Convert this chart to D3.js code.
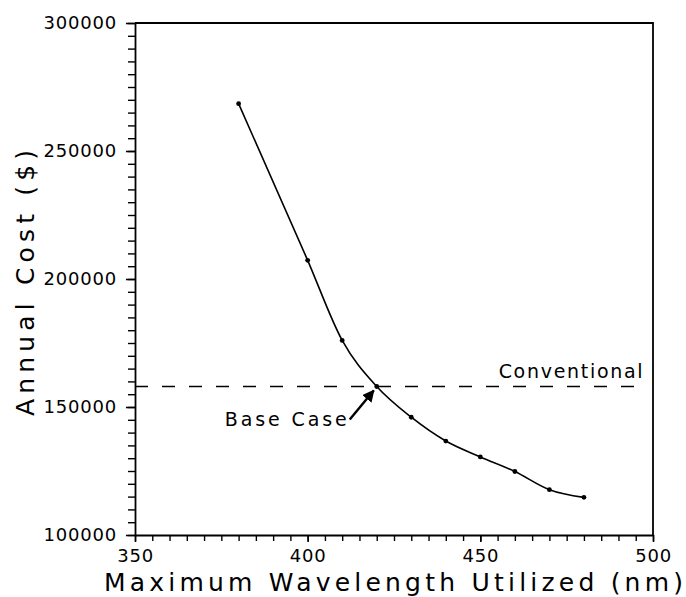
<!DOCTYPE html>
<html>
<head>
<meta charset="utf-8">
<script src="https://cdn.jsdelivr.net/npm/d3@7"></script>
<style>
  html, body { margin: 0; padding: 0; background: #fff; }
  svg { display: block; }
  text { font-family: "DejaVu Sans", sans-serif; fill: #000; }
</style>
</head>
<body>
<svg id="chart" width="686" height="597"></svg>
<script>
// ---- data ----
const wavelengths = [380, 400, 410, 420, 430, 440, 450, 460, 470, 480];
const annualCost  = [268500, 207300, 176000, 158000, 146000, 136700, 130500, 124800, 117700, 114700];
const conventionalCost = 158000;
const baseCaseWavelength = 420;
const xTickLabels = [350, 400, 450, 500];
const yTickLabels = [100000, 150000, 200000, 250000, 300000];
const xTitle = "Maximum Wavelength Utilized (nm)";
const yTitle = "Annual Cost ($)";

// ---- layout ----
const svg = d3.select("#chart");
const plotL = 135, plotR = 653, plotT = 23, plotB = 535;

const x = d3.scaleLinear().domain([350, 500]).range([plotL, plotR]);
const y = d3.scaleLinear().domain([100000, 300000]).range([plotB, plotT]);

// frame (top and right)
svg.append("path")
  .attr("d", `M${plotL},${plotT}H${plotR}V${plotB}`)
  .attr("fill", "none").attr("stroke", "#000").attr("stroke-width", 1.8);

// minor ticks
svg.append("g").attr("transform", `translate(${plotL},0)`)
  .call(d3.axisLeft(y).tickValues(d3.range(100000, 300001, 5000)).tickSize(7).tickFormat(""))
  .call(g => g.select(".domain").remove())
  .call(g => g.selectAll("line").attr("stroke-width", 1.4));
svg.append("g").attr("transform", `translate(0,${plotB})`)
  .call(d3.axisBottom(x).tickValues(d3.range(350, 501, 5)).tickSize(6).tickFormat(""))
  .call(g => g.select(".domain").remove())
  .call(g => g.selectAll("line").attr("stroke-width", 1.4));

// major axes
const yAxis = svg.append("g").attr("transform", `translate(${plotL},0)`)
  .call(d3.axisLeft(y).tickValues(yTickLabels).tickSize(9).tickPadding(9).tickFormat(d3.format("d")).tickSizeOuter(0));
yAxis.select(".domain").attr("stroke-width", 1.8);
yAxis.selectAll("line").attr("stroke-width", 1.6);
yAxis.selectAll("text").attr("font-size", 18).attr("letter-spacing", 0.8)
  .attr("font-family", "DejaVu Sans").attr("fill", "#000");

const xAxis = svg.append("g").attr("transform", `translate(0,${plotB})`)
  .call(d3.axisBottom(x).tickValues(xTickLabels).tickSize(7).tickPadding(7).tickFormat(d3.format("d")).tickSizeOuter(0));
xAxis.select(".domain").attr("stroke-width", 1.8);
xAxis.selectAll("line").attr("stroke-width", 1.6);
xAxis.selectAll("text").attr("font-size", 18).attr("letter-spacing", 0.8)
  .attr("font-family", "DejaVu Sans").attr("fill", "#000");

// conventional dashed line
svg.append("line")
  .attr("x1", x(350)).attr("x2", x(498))
  .attr("y1", y(conventionalCost)).attr("y2", y(conventionalCost))
  .attr("stroke", "#000").attr("stroke-width", 1.6)
  .attr("stroke-dasharray", "13,14");
svg.append("text")
  .attr("x", x(497)).attr("y", y(conventionalCost) - 9)
  .attr("text-anchor", "end").attr("font-size", 19)
  .attr("textLength", 144).attr("lengthAdjust", "spacing")
  .text("Conventional");

// cost curve
const pts = wavelengths.map((w, i) => [w, annualCost[i]]);
svg.append("path")
  .datum(pts)
  .attr("fill", "none").attr("stroke", "#000").attr("stroke-width", 1.6)
  .attr("d", d3.line().x(d => x(d[0])).y(d => y(d[1])).curve(d3.curveMonotoneX));
svg.append("g").selectAll("circle").data(pts).join("circle")
  .attr("cx", d => x(d[0])).attr("cy", d => y(d[1])).attr("r", 2.4).attr("fill", "#000");

// base case annotation
const bx = x(baseCaseWavelength), by = y(conventionalCost);
svg.append("defs").append("marker")
  .attr("id", "ah").attr("viewBox", "0 0 10 10").attr("refX", 9).attr("refY", 5)
  .attr("markerWidth", 5).attr("markerHeight", 5).attr("orient", "auto")
  .append("path").attr("d", "M0,0L10,5L0,10z").attr("fill", "#000");
svg.append("line")
  .attr("x1", bx - 27).attr("y1", by + 33)
  .attr("x2", bx - 3).attr("y2", by + 4)
  .attr("stroke", "#000").attr("stroke-width", 2.4)
  .attr("marker-end", "url(#ah)");
svg.append("text")
  .attr("x", bx - 30).attr("y", by + 39)
  .attr("text-anchor", "end").attr("font-size", 19)
  .attr("textLength", 122).attr("lengthAdjust", "spacing")
  .text("Base Case");

// axis titles
svg.append("text")
  .attr("x", 104).attr("y", 591)
  .attr("font-size", 25)
  .attr("textLength", 579).attr("lengthAdjust", "spacing")
  .text(xTitle);
svg.append("text")
  .attr("transform", `translate(34,${(plotT + plotB) / 2 + 137}) rotate(-90)`)
  .attr("font-size", 25)
  .attr("textLength", 266).attr("lengthAdjust", "spacing")
  .text(yTitle);
</script>
</body>
</html>
